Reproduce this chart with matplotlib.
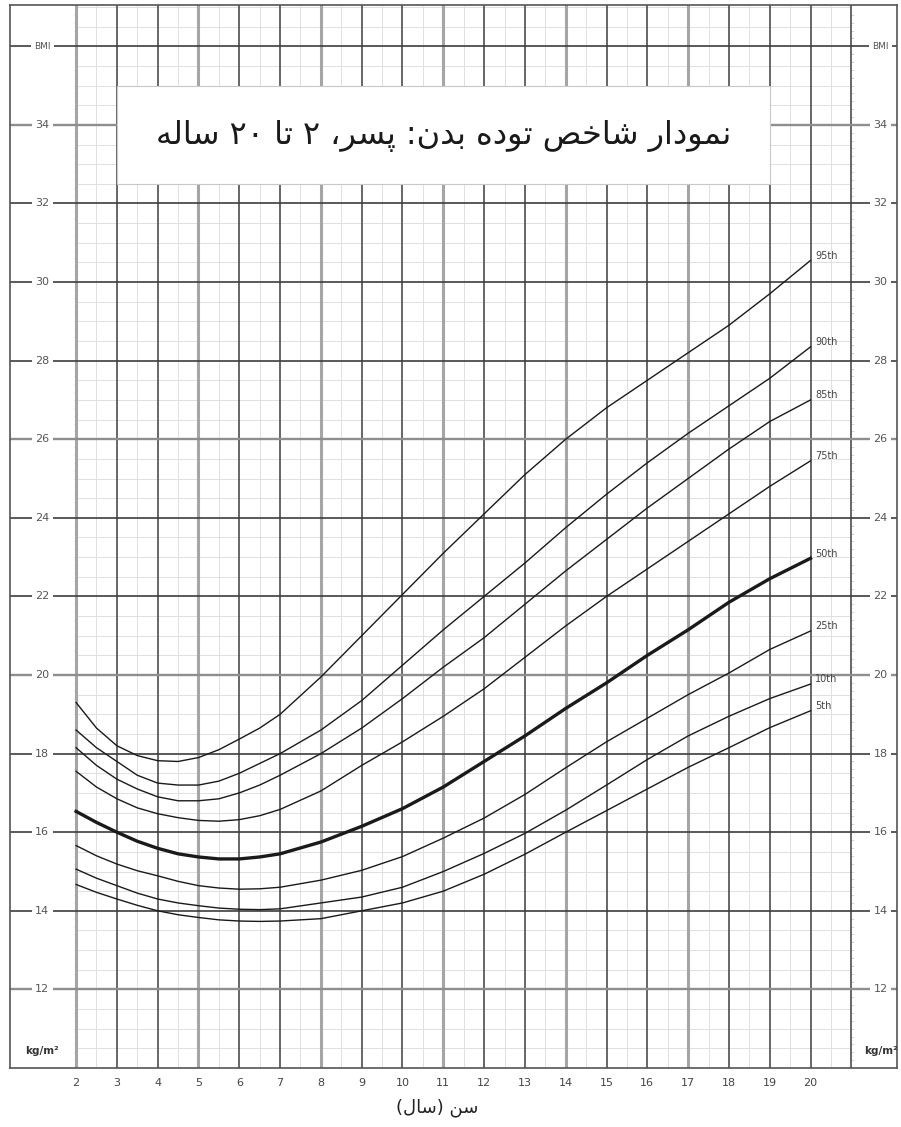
import re
import numpy as np
import matplotlib.pyplot as plt
from matplotlib.patches import Rectangle

# BMI-for-age percentiles, boys 2-20 years
ages = [2, 2.5, 3, 3.5, 4, 4.5, 5, 5.5, 6, 6.5, 7,
        8, 9, 10, 11, 12, 13, 14, 15, 16, 17, 18, 19, 20]

p95 = [19.3, 18.65, 18.2, 17.95, 17.82, 17.8, 17.9, 18.1, 18.37, 18.65, 19.0,
       19.95, 21.0, 22.05, 23.1, 24.1, 25.1, 26.0, 26.8, 27.5, 28.2, 28.9, 29.7, 30.55]
p90 = [18.6, 18.15, 17.8, 17.45, 17.25, 17.2, 17.2, 17.3, 17.5, 17.75, 18.0,
       18.6, 19.35, 20.25, 21.15, 22.0, 22.85, 23.75, 24.6, 25.4, 26.15, 26.85, 27.55, 28.35]
p85 = [18.15, 17.7, 17.35, 17.1, 16.9, 16.8, 16.8, 16.85, 17.0, 17.2, 17.45,
       18.0, 18.65, 19.4, 20.2, 20.95, 21.8, 22.65, 23.45, 24.25, 25.0, 25.75, 26.45, 27.0]
p75 = [17.55, 17.15, 16.85, 16.62, 16.47, 16.37, 16.3, 16.28, 16.32, 16.42, 16.58,
       17.05, 17.7, 18.3, 18.95, 19.65, 20.45, 21.25, 22.0, 22.7, 23.4, 24.1, 24.8, 25.45]
p50 = [16.53, 16.25, 16.0, 15.77, 15.59, 15.45, 15.37, 15.32, 15.32, 15.37, 15.45,
       15.75, 16.15, 16.6, 17.15, 17.8, 18.45, 19.15, 19.8, 20.5, 21.15, 21.85, 22.45, 22.97]
p25 = [15.66, 15.4, 15.19, 15.02, 14.89, 14.75, 14.64, 14.58, 14.55, 14.56, 14.6,
       14.78, 15.03, 15.38, 15.85, 16.36, 16.96, 17.64, 18.3, 18.9, 19.5, 20.05, 20.65, 21.12]
p10 = [15.06, 14.83, 14.64, 14.45, 14.3, 14.2, 14.13, 14.07, 14.04, 14.03, 14.05,
       14.2, 14.35, 14.6, 15.0, 15.46, 15.97, 16.56, 17.2, 17.85, 18.45, 18.95, 19.4, 19.77]
p5 = [14.67, 14.47, 14.3, 14.14, 14.0, 13.9, 13.83, 13.77, 13.74, 13.73, 13.74,
      13.8, 14.0, 14.2, 14.5, 14.93, 15.44, 16.0, 16.55, 17.1, 17.65, 18.15, 18.66, 19.09]

curve_names = ["95th", "90th", "85th", "75th", "50th", "25th", "10th", "5th"]
curves = [p95, p90, p85, p75, p50, p25, p10, p5]

age_ticks = list(range(2, 21))
bmi_ticks = list(range(12, 36, 2))

title_fa = "نمودار شاخص توده بدن: پسر، ۲ تا ۲۰ ساله"
xlabel_fa = "سن (سال)"

# presentation forms: isolated, final, initial, medial
FORMS = {
    'ا': (0xFE8D, 0xFE8E), 'د': (0xFEA9, 0xFEAA), 'ر': (0xFEAD, 0xFEAE),
    'و': (0xFEED, 0xFEEE),
    'ب': (0xFE8F, 0xFE90, 0xFE91, 0xFE92), 'پ': (0xFB56, 0xFB57, 0xFB58, 0xFB59),
    'ت': (0xFE95, 0xFE96, 0xFE97, 0xFE98), 'خ': (0xFEA5, 0xFEA6, 0xFEA7, 0xFEA8),
    'س': (0xFEB1, 0xFEB2, 0xFEB3, 0xFEB4), 'ش': (0xFEB5, 0xFEB6, 0xFEB7, 0xFEB8),
    'ص': (0xFEB9, 0xFEBA, 0xFEBB, 0xFEBC), 'ل': (0xFEDD, 0xFEDE, 0xFEDF, 0xFEE0),
    'م': (0xFEE1, 0xFEE2, 0xFEE3, 0xFEE4), 'ن': (0xFEE5, 0xFEE6, 0xFEE7, 0xFEE8),
    'ه': (0xFEE9, 0xFEEA, 0xFEEB, 0xFEEC),
}


def fa(text):
    # shape the letters and put them in visual (left to right) order
    out = []
    for i, ch in enumerate(text):
        if ch not in FORMS:
            out.append(ch)
            continue
        f = FORMS[ch]
        prev = text[i - 1] if i > 0 else ''
        nxt = text[i + 1] if i + 1 < len(text) else ''
        jp = prev in FORMS and len(FORMS[prev]) == 4
        jn = len(f) == 4 and nxt in FORMS
        if jp and jn:
            c = f[3]
        elif jp:
            c = f[1]
        elif jn:
            c = f[2]
        else:
            c = f[0]
        out.append(chr(c))
    s = ''.join(out)[::-1]
    s = re.sub('[۰-۹]+', lambda m: m.group(0)[::-1], s)
    return s.translate(str.maketrans('()', ')('))


fig = plt.figure(figsize=(9.01, 11.27), dpi=100)
ax = fig.add_axes([10 / 901, 59 / 1127, 887 / 901, 1063 / 1127])
ax.set_xlim(0.38, 22.12)
ax.set_ylim(10, 37.05)
ax.set_xticks([])
ax.set_yticks([])
for s in ax.spines.values():
    s.set_color('#555555')
    s.set_linewidth(1.2)

# minor grid every half unit
minor_x = np.arange(2.5, 21, 1.0)
minor_y = [v for v in np.arange(10.5, 37.01, 0.5) if v % 2 != 0]
ax.vlines(minor_x, 10, 37.05, color='#e0e0e0', lw=0.7, zorder=1)
ax.hlines(minor_y, 2, 21, color='#e0e0e0', lw=0.7, zorder=1)

# small ticks along the left and right grid edges
small_y = np.arange(10.2, 37, 0.2)
ax.hlines(small_y, 1.94, 2, color='#c8c8c8', lw=0.5, zorder=1)
ax.hlines(small_y, 21, 21.06, color='#c8c8c8', lw=0.5, zorder=1)

# major grid
for a in range(2, 22):
    if a in (2, 5, 8, 11, 14, 17):
        ax.axvline(a, color='#a5a5a5', lw=2.2, zorder=2)
    else:
        ax.axvline(a, color='#4d4d4d', lw=1.2, zorder=2)
for b in bmi_ticks + [36]:
    if b in (12, 20, 26, 34):
        ax.axhline(b, color='#8e8e8e', lw=1.7, zorder=2)
    else:
        ax.axhline(b, color='#3d3d3d', lw=1.2, zorder=2)

# title box
ax.add_patch(Rectangle((3, 32.5), 16, 2.5, facecolor='white', edgecolor='#c8c8c8',
                       lw=0.8, zorder=3))
ax.text(11, 33.72, fa(title_fa), ha='center', va='center', fontsize=23,
        color='#1a1a1a', zorder=4)

# percentile curves
for name, vals in zip(curve_names, curves):
    lw = 2.4 if name == "50th" else 1.0
    ax.plot(ages, vals, color='#1a1a1a', lw=lw, zorder=5, solid_joinstyle='round')
    ax.text(20.12, vals[-1] + 0.12, name, ha='left', va='center', fontsize=7,
            color='#444444', zorder=5)

# axis labels on both sides
lab_box = dict(facecolor='white', edgecolor='none', pad=2.5)
for xpos in (1.17, 21.72):
    for b in bmi_ticks:
        ax.text(xpos, b, str(b), ha='center', va='center', fontsize=8,
                color='#555555', bbox=lab_box, zorder=4)
    ax.text(xpos, 36, 'BMI', ha='center', va='center', fontsize=6.5,
            color='#555555', bbox=lab_box, zorder=4)
    ax.text(xpos, 10.42, 'kg/m²', ha='center', va='center', fontsize=7.5,
            color='#333333', fontweight='bold', zorder=4)

for a in age_ticks:
    ax.text(a, 9.63, str(a), ha='center', va='center', fontsize=8,
            color='#444444', clip_on=False)
ax.text(10.85, 8.98, fa(xlabel_fa), ha='center', va='center', fontsize=13,
        color='#222222', clip_on=False)

fig.savefig('out.png', dpi=100, facecolor='white')
